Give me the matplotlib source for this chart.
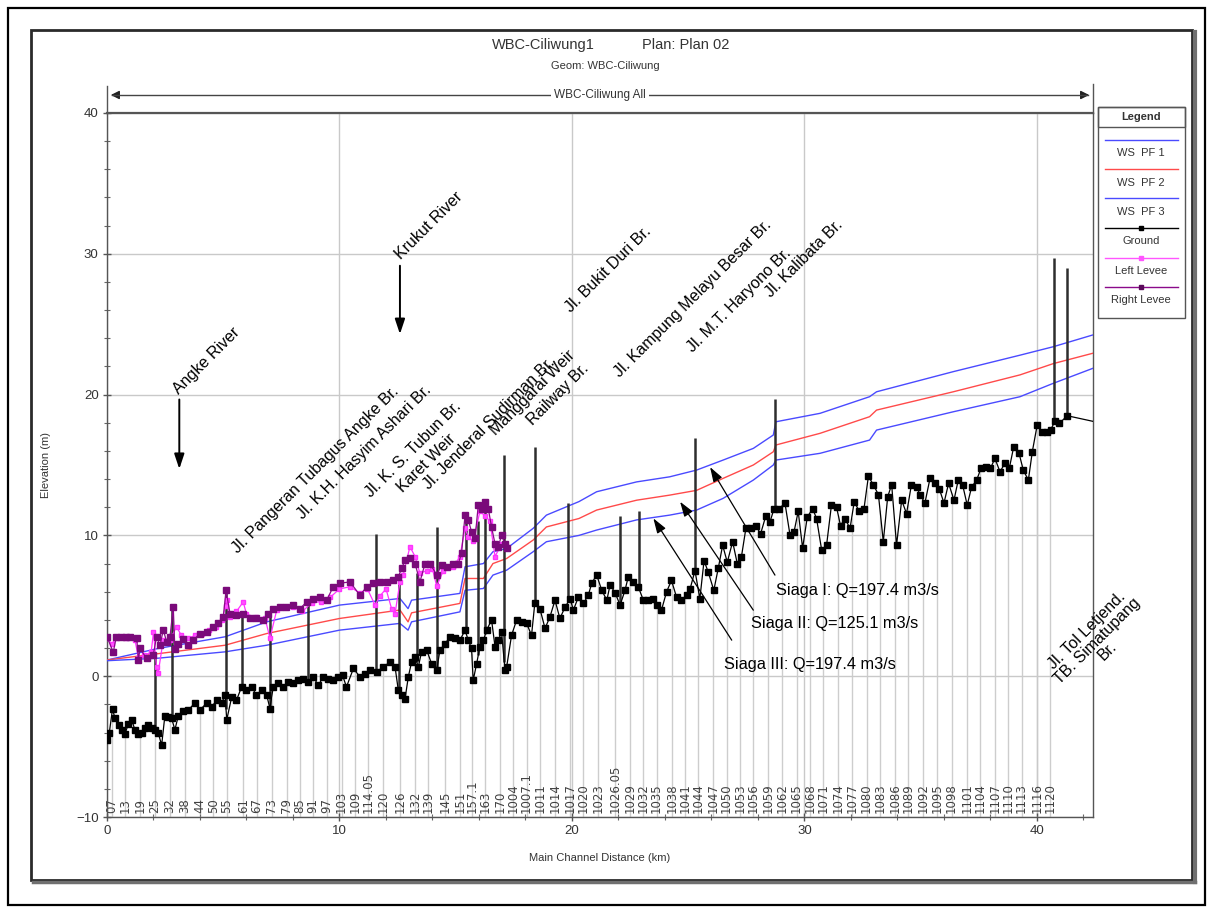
import numpy as np
import matplotlib
matplotlib.use('Agg')
import matplotlib.pyplot as plt
from matplotlib.patches import Rectangle, FancyArrowPatch
from matplotlib.lines import Line2D

plt.rcParams['font.family'] = ['Liberation Sans', 'DejaVu Sans']

# ---------------- data ----------------
ground_km = [0.0, 0.1, 0.24, 0.34, 0.5, 0.63, 0.77, 0.92, 1.06, 1.2, 1.35, 1.49, 1.63, 1.78, 1.92,
             2.06, 2.2, 2.35, 2.49, 2.64, 2.78, 2.92, 3.07, 3.28, 3.5, 3.78, 4.0, 4.29, 4.5, 4.71,
             4.93, 5.08, 5.15, 5.36, 5.57, 5.79, 6.0, 6.22, 6.43, 6.65, 6.87, 7.01, 7.15, 7.37,
             7.58, 7.8, 8.01, 8.23, 8.44, 8.66, 8.87, 9.09, 9.3, 9.52, 9.73, 9.95, 10.13, 10.3,
             10.6, 10.88, 11.1, 11.32, 11.6, 11.88, 12.17, 12.39, 12.53, 12.67, 12.82, 12.96, 13.1,
             13.25, 13.39, 13.53, 13.75, 13.96, 14.18, 14.32, 14.54, 14.75, 14.97, 15.18, 15.4,
             15.54, 15.68, 15.75, 15.9, 16.04, 16.19, 16.33, 16.54, 16.69, 16.83, 16.97, 17.12,
             17.19, 17.4, 17.62, 17.83, 18.05, 18.26, 18.4, 18.62, 18.84, 19.05, 19.27, 19.48,
             19.7, 19.92, 20.06, 20.27, 20.49, 20.7, 20.85, 21.06, 21.28, 21.5, 21.64, 21.86,
             22.07, 22.28, 22.42, 22.64, 22.85, 23.07, 23.28, 23.5, 23.66, 23.85, 24.07, 24.28,
             24.5, 24.71, 24.93, 25.08, 25.29, 25.5, 25.68, 25.86, 26.1, 26.29, 26.48, 26.68,
             26.91, 27.11, 27.29, 27.48, 27.68, 27.91, 28.11, 28.34, 28.52, 28.69, 28.92, 29.16,
             29.38, 29.55, 29.73, 29.92, 30.12, 30.35, 30.52, 30.74, 30.95, 31.16, 31.38, 31.55,
             31.74, 31.96, 32.14, 32.36, 32.56, 32.75, 32.96, 33.18, 33.39, 33.58, 33.75, 33.96,
             34.18, 34.39, 34.6, 34.82, 34.97, 35.18, 35.4, 35.61, 35.8, 36.0, 36.2, 36.43, 36.61,
             36.8, 37.0, 37.19, 37.4, 37.59, 37.79, 38.0, 38.19, 38.41, 38.62, 38.81, 39.0, 39.23,
             39.41, 39.63, 39.8, 40.01, 40.2, 40.42, 40.59, 40.77, 40.96, 41.3, 42.41]
ground_el = [-4.5, -4.0, -2.3, -3.0, -3.5, -3.8, -4.1, -3.4, -3.1, -3.8, -4.1, -4.0, -3.7, -3.5, -3.7,
             -3.8, -4.0, -4.9, -2.8, -2.9, -3.0, -3.8, -2.8, -2.5, -2.4, -1.9, -2.4, -1.9, -2.2, -1.7,
             -1.9, -1.35, -3.1, -1.5, -1.7, -0.76, -1.0, -0.76, -1.35, -1.0, -1.35, -2.3, -0.76, -0.5,
             -0.76, -0.4, -0.5, -0.3, -0.17, -0.4, -0.05, -0.64, -0.05, -0.17, -0.3, -0.05, 0.07, -0.76,
             0.55, -0.05, 0.19, 0.43, 0.31, 0.66, 1.0, 0.66, -1.0, -1.35, -1.6, -0.05, 1.0,
             1.37, 0.66, 1.73, 1.85, 0.9, 0.43, 1.85, 2.3, 2.8, 2.7, 2.55, 3.27,
             2.55, 1.97, -0.3, 0.9, 2.1, 2.55, 3.27, 4.0, 2.1, 2.55, 3.15, 0.43,
             0.66, 2.9, 4.0, 3.85, 3.75, 2.9, 5.17, 4.8, 3.4, 4.2, 5.4, 4.1,
             4.9, 5.5, 4.7, 5.6, 5.17, 5.75, 6.6, 7.2, 6.1, 5.4, 6.5, 5.9,
             5.05, 6.1, 7.05, 6.7, 6.35, 5.4, 5.4, 5.5, 5.05, 4.7, 6.0, 6.8,
             5.6, 5.4, 5.75, 6.2, 7.5, 5.5, 8.2, 7.4, 6.1, 7.65, 9.3, 8.1,
             9.55, 8.0, 8.5, 10.5, 10.5, 10.7, 10.1, 11.4, 10.97, 11.9, 11.9, 12.3,
             10.0, 10.25, 11.7, 9.1, 11.3, 11.9, 11.2, 8.95, 9.3, 12.15, 12.0, 10.7,
             11.2, 10.5, 12.4, 11.7, 11.9, 14.2, 13.6, 12.9, 9.55, 12.75, 13.6, 9.3,
             12.5, 11.55, 13.6, 13.45, 12.9, 12.3, 14.05, 13.7, 13.3, 12.3, 13.7, 12.5, 13.9,
             13.6, 12.15, 13.45, 13.9, 14.76, 14.88, 14.76, 15.47, 14.52, 15.12, 14.76, 16.3, 15.83,
             14.64, 13.93, 15.95, 17.84, 17.37, 17.37, 17.5, 18.1, 17.95, 18.5, 18.1]

left_levee_km = [0.0, 0.2, 0.4, 0.8, 1.2, 1.35, 1.6, 1.9, 2.0, 2.13, 2.2, 2.42, 2.71, 2.99, 3.2, 3.5,
                 3.8, 4.1, 4.4, 4.7, 4.95, 5.1, 5.15, 5.3, 5.57, 5.86, 6.0, 6.4, 6.8, 7.01, 7.3, 7.7,
                 8.0, 8.4, 8.8, 9.2, 9.6, 10.0, 10.45, 10.88, 11.2, 11.53, 11.74, 12.0, 12.24, 12.39,
                 12.6, 12.74, 13.03, 13.25, 13.46, 13.75, 14.0, 14.18, 14.47, 14.9, 15.18, 15.4,
                 15.54, 15.75, 16.04, 16.26, 16.47, 16.69, 16.97, 17.19]
left_levee_el = [2.7, 2.3, 2.7, 2.7, 2.6, 1.3, 1.5, 1.7, 3.15, 0.66, 0.2, 2.6, 2.6, 3.5, 2.9, 2.7,
                 2.9, 3.0, 3.3, 3.5, 4.0, 5.0, 5.4, 4.2, 4.6, 5.28, 4.4, 4.2, 4.1, 2.7, 4.7, 4.9,
                 4.9, 4.6, 5.2, 5.3, 5.6, 6.2, 6.35, 5.9, 6.2, 5.05, 5.7, 6.2, 4.8, 4.45,
                 6.7, 7.2, 9.2, 8.5, 7.3, 7.5, 7.6, 6.4, 7.5, 7.77, 8.5, 10.5,
                 9.9, 9.6, 11.7, 11.4, 11.0, 8.5, 9.4, 9.2]

right_levee_km = [0.0, 0.27, 0.4, 0.6, 0.8, 1.0, 1.28, 1.35, 1.42, 1.7, 1.99, 2.13, 2.28, 2.42, 2.57,
                  2.71, 2.85, 2.92, 3.07, 3.28, 3.5, 3.71, 4.0, 4.28, 4.57, 4.78, 5.0, 5.12, 5.29,
                  5.57, 5.86, 6.15, 6.43, 6.72, 6.94, 7.15, 7.44, 7.72, 8.01, 8.3, 8.59, 8.87, 9.16,
                  9.45, 9.73, 10.02, 10.45, 10.88, 11.17, 11.45, 11.74, 12.03, 12.31, 12.53, 12.67,
                  12.82, 13.03, 13.25, 13.46, 13.68, 13.89, 14.18, 14.4, 14.61, 14.9, 15.11, 15.25,
                  15.4, 15.54, 15.68, 15.83, 15.97, 16.11, 16.26, 16.4, 16.54, 16.69, 16.83, 16.97,
                  17.12, 17.19]
right_levee_el = [2.8, 1.7, 2.8, 2.8, 2.75, 2.8, 2.7, 1.14, 1.97, 1.26, 1.5, 2.8, 2.2, 3.27, 2.44,
                  2.8, 4.9, 1.9, 2.3, 2.67, 2.2, 2.55, 3.03, 3.15, 3.5, 3.75, 4.2, 6.1, 4.45,
                  4.33, 4.45, 4.1, 4.1, 4.0, 4.45, 4.8, 4.9, 4.9, 5.05, 4.8, 5.28, 5.5, 5.64,
                  5.4, 6.35, 6.6, 6.7, 5.75, 6.35, 6.6, 6.7, 6.7, 6.82, 7.05, 7.65,
                  8.24, 8.37, 8.0, 6.7, 8.0, 8.0, 7.2, 7.9, 7.77, 8.0, 8.0, 8.72,
                  11.44, 11.1, 10.26, 9.8, 12.15, 11.9, 12.4, 11.9, 10.6, 9.4, 9.2, 10.0,
                  9.4, 9.1]

ws_km = [0.0, 2.2, 5.08, 6.87, 10.0, 12.6, 12.95, 13.1, 15.18, 15.4, 16.19, 16.6, 17.19, 18.33,
         18.9, 20.3, 21.06, 22.78, 24.2, 25.36, 26.5, 27.8, 28.66, 28.77, 30.67, 32.8, 33.1,
         36.4, 39.27, 40.7, 42.41]
ws_pf1 = [1.15, 1.97, 2.8, 3.86, 5.05, 5.52, 4.8, 5.4, 5.88, 7.77, 8.0, 8.84, 9.07, 10.5,
          11.44, 12.4, 13.1, 13.8, 14.16, 14.64, 15.35, 16.18, 17.13, 18.07, 18.67, 19.85, 20.2,
          21.63, 22.8, 23.4, 24.24]
ws_pf2 = [1.15, 1.6, 2.2, 3.03, 4.1, 4.7, 3.86, 4.5, 5.17, 6.94, 6.94, 8.0, 8.36, 9.67,
          10.6, 11.2, 11.8, 12.5, 12.86, 13.2, 14.05, 15.0, 15.94, 16.42, 17.25, 18.43, 18.9,
          20.2, 21.4, 22.2, 22.94]
ws_pf3 = [1.1, 1.28, 1.73, 2.2, 3.27, 3.75, 3.27, 3.86, 4.57, 6.1, 6.23, 7.18, 7.53, 8.84,
          9.55, 10.0, 10.38, 11.1, 11.44, 11.8, 12.63, 13.93, 15.0, 15.35, 15.83, 16.77, 17.48,
          18.78, 19.85, 20.8, 21.87]

bridge_km = [2.06, 2.8, 5.12, 5.8, 7.0, 8.65, 11.57, 12.56, 13.32, 14.18, 15.44, 15.97, 16.28,
             17.09, 18.4, 19.84, 22.07, 22.9, 25.29, 28.73, 40.73, 41.3]
bridge_top = [1.6, 4.9, 6.1, 4.3, 4.45, 5.3, 10.1, 6.7, 7.3, 10.6, 11.4, 11.0, 12.4,
              15.7, 16.3, 12.3, 11.4, 11.7, 16.9, 19.7, 29.7, 29.0]

station_labels = ['07', '13', '19', '25', '32', '38', '44', '50', '55', '61', '67', '73', '79', '85',
                  '91', '97', '103', '109', '114.05', '120', '126', '132', '139', '145', '151',
                  '157.1', '163', '170', '1004', '1007.1', '1011', '1014', '1017', '1020', '1023',
                  '1026.05', '1029', '1032', '1035', '1038', '1041', '1044', '1047', '1050', '1053',
                  '1056', '1059', '1062', '1065', '1068', '1071', '1074', '1077', '1080', '1083',
                  '1086', '1089', '1092', '1095', '1098', '1101', '1104', '1107', '1110', '1113',
                  '1116', '1120']
station_km = [0.2, 0.77, 1.42, 2.06, 2.71, 3.35, 4.0, 4.57, 5.15, 5.86, 6.44, 7.08, 7.73, 8.3,
              8.87, 9.45, 10.09, 10.67, 11.24, 11.88, 12.6, 13.25, 13.82, 14.54, 15.18,
              15.69, 16.26, 16.9, 17.48, 18.05, 18.62, 19.27, 19.91, 20.49, 21.13,
              21.85, 22.49, 23.07, 23.64, 24.29, 24.86, 25.43, 26.08, 26.65, 27.23,
              27.8, 28.44, 29.02, 29.66, 30.24, 30.81, 31.45, 32.03, 32.67, 33.25,
              33.89, 34.46, 35.11, 35.69, 36.33, 36.98, 37.55, 38.19, 38.77, 39.34,
              39.99, 40.56]

# structure annotations: text, anchor km, anchor elevation (lower-left of rotated text)
struct_names = ['Angke River', 'Krukut River', 'Jl. Pangeran Tubagus Angke Br.',
                'Jl. K.H. Hasyim Ashari Br.', 'Jl. K. S. Tubun Br.', 'Karet Weir',
                'Jl. Jenderal Sudirman Br.', 'Manggarai Weir', 'Railway Br.', 'Jl. Bukit Duri Br.',
                'Jl. Kampung Melayu Besar Br.', 'Jl. M.T. Haryono Br.', 'Jl. Kalibata Br.']
struct_km = [3.17, 12.72, 5.73, 8.51, 11.45, 12.81, 13.95, 16.82, 18.4, 20.05, 22.13, 25.28, 28.65]
struct_el = [19.83, 29.4, 8.53, 10.97, 12.5, 12.86, 13.1, 16.9, 17.6, 25.66, 21.04, 22.8, 26.7]

siaga_texts = ['Siaga I: Q=197.4 m3/s', 'Siaga II: Q=125.1 m3/s', 'Siaga III: Q=197.4 m3/s']
siaga_text_km = [28.79, 27.69, 26.54]
siaga_text_el = [6.11, 3.75, 0.85]
siaga_tail_km = [28.73, 27.8, 26.87]
siaga_tail_el = [7.18, 4.69, 2.56]
siaga_head_km = [25.94, 24.65, 23.5]
siaga_head_el = [14.85, 12.39, 11.21]

# ---------------- figure ----------------
W, H = 1210, 909
fig = plt.figure(figsize=(W / 100, H / 100), dpi=100)
fig.patch.set_facecolor('white')


def fx(px):
    return px / W


def fy(py):
    return 1 - py / H


tf = fig.transFigure

# outer border and window frame
fig.add_artist(Rectangle((fx(8), fy(905)), fx(1205) - fx(8), fy(8) - fy(905), fill=False,
                         ec='black', lw=1.6, transform=tf))
fig.add_artist(Rectangle((fx(31), fy(880)), fx(1192) - fx(31), fy(30) - fy(880), fill=False,
                         ec='#2a2a2a', lw=2.0, transform=tf))
fig.add_artist(Line2D([fx(1195), fx(1195)], [fy(32), fy(882)], color='#707070', lw=3, transform=tf))
fig.add_artist(Line2D([fx(33), fx(1195)], [fy(882), fy(882)], color='#707070', lw=2.5, transform=tf))

ax = fig.add_axes([fx(107), fy(817), (1093 - 107) / W, (817 - 113) / H])
ax.set_xlim(0, 42.41)
ax.set_ylim(-10, 40)

# grid and ticks
ax.set_xticks([0, 10, 20, 30, 40])
ax.set_yticks([-10, 0, 10, 20, 30, 40])
ax.set_xticks(np.arange(0, 43, 2), minor=True)
ax.set_yticks(np.arange(-10, 41, 2), minor=True)
ax.grid(True, which='major', color='#c9c9c9', lw=1.0, zorder=0)
ax.tick_params(which='major', direction='inout', length=6, width=1, color='#555555',
               labelsize=9.5, labelcolor='#333333', pad=3)
ax.tick_params(which='minor', direction='inout', length=4, width=0.8, color='#666666')
for s in ax.spines.values():
    s.set_color('#555555')
    s.set_linewidth(1.0)
ax.spines['top'].set_linewidth(1.6)

gx = np.array(ground_km)
gy = np.array(ground_el)

# cross-section station lines and labels
st = np.array(station_km)
ax.vlines(st, -10, np.interp(st, gx, gy), colors='#cdcdcd', lw=1.0, zorder=1)
for km, lab in zip(station_km, station_labels):
    ax.text(km, -9.7, lab, rotation=90, ha='center', va='bottom', fontsize=8.5,
            family='DejaVu Sans', color='#404040', zorder=2)

# water surfaces
ax.plot(ws_km, ws_pf1, color='#4a4aff', lw=1.0, zorder=3)
ax.plot(ws_km, ws_pf2, color='#ff4a4a', lw=1.0, zorder=3)
ax.plot(ws_km, ws_pf3, color='#4a4aff', lw=1.0, zorder=3)

# bridges
bk = np.array(bridge_km)
ax.vlines(bk, np.interp(bk, gx, gy), bridge_top, colors='#2e2e2e', lw=1.8, zorder=4)

# levees
ax.plot(left_levee_km, left_levee_el, color='#ff33ff', lw=0.9, marker='s', ms=3.4,
        mfc='#ff55ff', mec='#ff33ff', zorder=5)
ax.plot(right_levee_km, right_levee_el, color='#8a0a8a', lw=0.9, marker='s', ms=3.9,
        mfc='#7a0a7a', mec='#7a0a7a', zorder=6)

# ground
ax.plot(gx, gy, color='black', lw=0.9, marker='s', ms=3.7, mfc='black', mec='black',
        markevery=list(range(len(gx) - 1)), zorder=7)

# structure annotations
for name, k, e in zip(struct_names, struct_km, struct_el):
    ax.text(k, e, name, rotation=45, rotation_mode='anchor', ha='left', va='bottom',
            fontsize=11.5, color='black', zorder=8)
# tributary arrows
ax.annotate('', xy=(3.11, 14.52), xytext=(3.11, 19.85),
            arrowprops=dict(arrowstyle='-|>,head_length=0.9,head_width=0.3', color='black', lw=1.4))
ax.annotate('', xy=(12.6, 24.1), xytext=(12.6, 29.35),
            arrowprops=dict(arrowstyle='-|>,head_length=0.9,head_width=0.3', color='black', lw=1.4))

ax.text(42.6, 2.5, 'Jl. Tol Letjend.\nTB. Simatupang\nBr.', rotation=45, rotation_mode='anchor',
        ha='center', va='center', multialignment='center', fontsize=11.5, color='black',
        linespacing=0.95, clip_on=False)

# siaga annotations
for t, tk, te, ak, ae, hk, he in zip(siaga_texts, siaga_text_km, siaga_text_el, siaga_tail_km,
                                     siaga_tail_el, siaga_head_km, siaga_head_el):
    ax.text(tk, te, t, ha='left', va='center', fontsize=11.8, color='black', zorder=8)
    ax.annotate('', xy=(hk, he), xytext=(ak, ae),
                arrowprops=dict(arrowstyle='-|>,head_length=0.9,head_width=0.3', color='black',
                                lw=0.9, shrinkA=0, shrinkB=0), zorder=8)

# axis labels
fig.text(fx(46), fy(465), 'Elevation (m)', rotation=90, ha='center', va='center', fontsize=8,
         color='#333333')
fig.text(fx(600), fy(858), 'Main Channel Distance (km)', ha='center', va='center', fontsize=8,
         color='#333333')

# titles
fig.text(fx(543), fy(45), 'WBC-Ciliwung1', ha='center', va='center', fontsize=10.5, color='#333333')
fig.text(fx(686), fy(45), 'Plan: Plan 02', ha='center', va='center', fontsize=10.5, color='#333333')
fig.text(fx(605), fy(66), 'Geom: WBC-Ciliwung', ha='center', va='center', fontsize=8, color='#333333')

# reach bar
fig.add_artist(Line2D([fx(107), fx(107)], [fy(113), fy(86)], color='#555555', lw=1.0, transform=tf))
fig.add_artist(Line2D([fx(1093), fx(1093)], [fy(113), fy(84)], color='#555555', lw=1.0, transform=tf))
fig.add_artist(Line2D([fx(112), fx(1088)], [fy(95), fy(95)], color='#444444', lw=1.0, transform=tf))
for x0, x1 in [(120, 108), (1080, 1092)]:
    fig.add_artist(FancyArrowPatch((fx(x0), fy(95)), (fx(x1), fy(95)),
                                   arrowstyle='-|>,head_length=5,head_width=2.5', color='#222222',
                                   lw=1.0, transform=tf, mutation_scale=1))
fig.text(fx(600), fy(95), 'WBC-Ciliwung All', ha='center', va='center', fontsize=8.5,
         color='#333333', bbox=dict(facecolor='white', edgecolor='none', pad=2))

# legend
lx0, lx1 = 1098, 1185
fig.add_artist(Rectangle((fx(lx0), fy(318)), fx(lx1) - fx(lx0), fy(107) - fy(318), fill=True,
                         fc='white', ec='#555555', lw=1.0, transform=tf))
fig.add_artist(Rectangle((fx(lx0), fy(127)), fx(lx1) - fx(lx0), fy(107) - fy(127), fill=False,
                         ec='#555555', lw=1.0, transform=tf))
fig.text(fx(1141), fy(117), 'Legend', ha='center', va='center', fontsize=8, weight='bold',
         color='#333333')
leg_entries = [('WS  PF 1', '#4a4aff', None, 140, 153),
               ('WS  PF 2', '#ff4a4a', None, 169, 183),
               ('WS  PF 3', '#4a4aff', None, 198, 212),
               ('Ground', 'black', 'black', 228, 241),
               ('Left Levee', '#ff55ff', '#ff55ff', 258, 271),
               ('Right Levee', '#8a0a8a', '#5a0a5a', 287, 300)]
for lab, c, mc, ly, ty in leg_entries:
    fig.add_artist(Line2D([fx(1105), fx(1178)], [fy(ly), fy(ly)], color=c, lw=1.0, transform=tf))
    if mc is not None:
        fig.add_artist(Line2D([fx(1141)], [fy(ly)], marker='s', ms=3.5, color=mc, transform=tf))
    fig.text(fx(1141), fy(ty), lab, ha='center', va='center', fontsize=8, color='#333333')

fig.savefig('out.png', dpi=100, facecolor='white')
